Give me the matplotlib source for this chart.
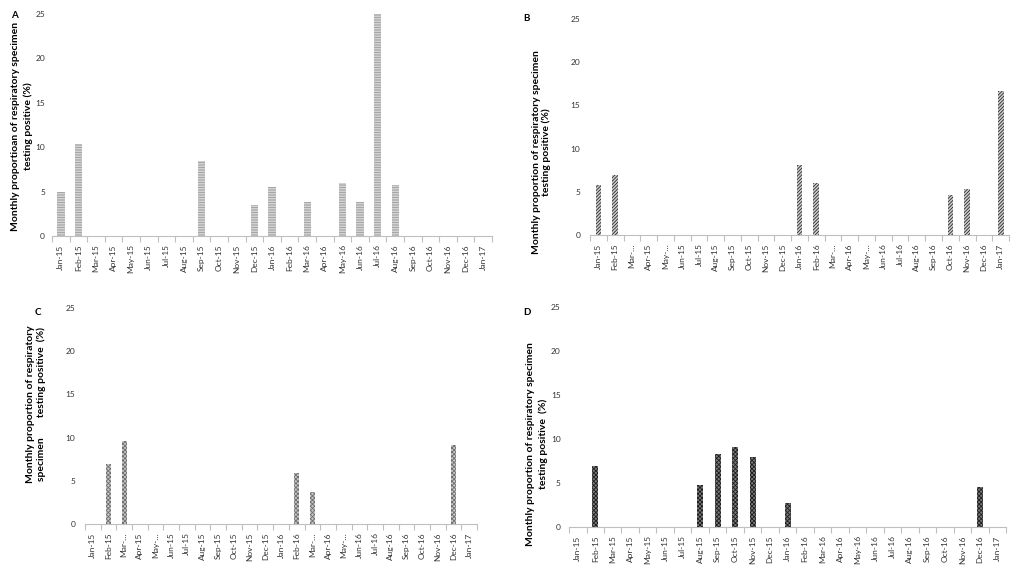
import numpy as np
from matplotlib import pyplot as plt
from matplotlib.ticker import FixedLocator

plt.rcParams['font.family'] = ['Lato', 'DejaVu Sans']
plt.rcParams['hatch.linewidth'] = 0.6

months = ["Jan-15", "Feb-15", "Mar-15", "Apr-15", "May-15", "Jun-15", "Jul-15",
          "Aug-15", "Sep-15", "Oct-15", "Nov-15", "Dec-15", "Jan-16", "Feb-16",
          "Mar-16", "Apr-16", "May-16", "Jun-16", "Jul-16", "Aug-16", "Sep-16",
          "Oct-16", "Nov-16", "Dec-16", "Jan-17"]
# B and C have truncated labels for Mar / May
months_cut = [m if m[:3] not in ("Mar", "May") else m[:4] + "\u2026" for m in months]

vals_a = [4.9, 10.4, 0, 0, 0, 0, 0, 0, 8.4, 0, 0, 3.5, 5.5, 0, 3.8, 0, 6.0, 3.8,
          25.0, 5.7, 0, 0, 0, 0, 0]
vals_b = [5.8, 7.0, 0, 0, 0, 0, 0, 0, 0, 0, 0, 0, 8.1, 6.0, 0, 0, 0, 0, 0, 0, 0,
          4.6, 5.3, 0, 16.7]
vals_c = [0, 6.9, 9.6, 0, 0, 0, 0, 0, 0, 0, 0, 0, 0, 5.9, 3.7, 0, 0, 0, 0, 0, 0,
          0, 0, 9.1, 0]
vals_d = [0, 6.9, 0, 0, 0, 0, 0, 4.8, 8.3, 9.1, 8.0, 0, 2.7, 0, 0, 0, 0, 0, 0, 0,
          0, 0, 0, 4.6, 0]

fig = plt.figure(figsize=(10.24, 5.75), dpi=100)

panels = [
    # rect, values, labels, hatch, face, hatch colour, width, ypad
    ([0.0508, 0.5896, 0.4297, 0.386], vals_a, months, '----------', '#e6e6e6', '#9a9a9a', 0.42, 5),
    ([0.5762, 0.5913, 0.4092, 0.3757], vals_b, months_cut, '//////////', '#cfcfcf', '#2a2a2a', 0.34, 7),
    ([0.0830, 0.0887, 0.3828, 0.3757], vals_c, months_cut, 'xxxxxxxx', '#c8c8c8', '#6e6e6e', 0.32, 7),
    ([0.5557, 0.0835, 0.4268, 0.3826], vals_d, months, 'xxxxxxxx', '#7a7a7a', '#1e1e1e', 0.34, 6),
]

for rect, vals, labels, hatch, face, col, w, ypad in panels:
    ax = fig.add_axes(rect)
    x = np.arange(len(labels))
    ax.bar(x, vals, width=w, color=face, edgecolor=col, hatch=hatch, linewidth=0)
    ax.set_xlim(-0.5, len(labels) - 0.5)
    ax.set_ylim(0, 25)
    ax.set_yticks([0, 5, 10, 15, 20, 25])
    ax.set_xticks(x)
    ax.set_xticklabels(labels, rotation=90, fontsize=6, color='#333333')
    ax.xaxis.set_minor_locator(FixedLocator(np.arange(-0.5, len(labels), 1)))
    ax.tick_params(axis='x', which='major', length=0, pad=6)
    ax.tick_params(axis='x', which='minor', length=4, color='#bfbfbf', width=0.8)
    ax.tick_params(axis='y', length=0, pad=ypad, labelsize=6, labelcolor='#333333')
    for s in ['top', 'right', 'left']:
        ax.spines[s].set_visible(False)
    ax.spines['bottom'].set_color('#bfbfbf')
    ax.spines['bottom'].set_linewidth(0.8)

lab = dict(rotation=90, ha='center', va='center', multialignment='center',
           fontsize=7.5, fontweight='bold', color='black')
fig.text(0.0215, 0.780, "Monthly proportioan of respiratory specimen\ntesting positive (%)",
         linespacing=1.55, **lab)
fig.text(0.529, 0.735, "Monthly proportion of respiratory specimen\ntesting positive (%)",
         linespacing=1.0, **lab)
fig.text(0.035, 0.297, "Monthly proportion of respiratory\nspecimen        testing positive  (%)",
         linespacing=1.15, **lab)
fig.text(0.5244, 0.228, "Monthly proportion of respiratory specimen\ntesting positive  (%)",
         linespacing=1.35, **lab)

for (tx, ty, t) in [(0.0137, 0.973, "A"), (0.514, 0.967, "B"),
                     (0.037, 0.456, "C"), (0.5146, 0.457, "D")]:
    fig.text(tx, ty, t, fontsize=7, fontweight='bold', ha='center', va='center')

fig.savefig("out.png", dpi=100)
